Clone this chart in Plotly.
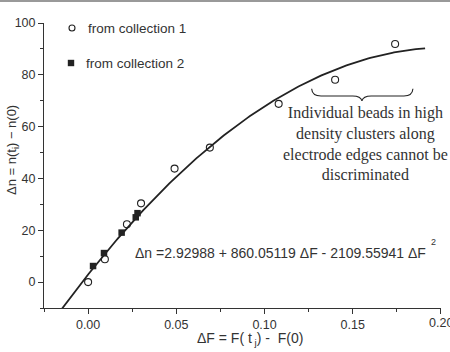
import numpy as np
import plotly.graph_objects as go

# Data
c1_x = [0.0, 0.0095, 0.022, 0.030, 0.049, 0.069, 0.108, 0.140, 0.174]
c1_y = [0.0, 8.8, 22.3, 30.4, 43.8, 51.9, 68.8, 78.1, 91.9]
c2_x = [0.0028, 0.009, 0.019, 0.027, 0.028]
c2_y = [6.2, 11.2, 19.1, 25.0, 26.6]

# Fit coefficients printed on the chart
fit_a0, fit_a1, fit_a2 = 2.92988, 860.05119, -2109.55941
fit_xmin, fit_xmax = -0.0152, 0.191

x_ticks = [0.00, 0.05, 0.10, 0.15, 0.20]
x_ticklabels = ["0.00", "0.05", "0.10", "0.15", "0.20"]
y_ticks = [0, 20, 40, 60, 80, 100]
y_ticklabels = ["0", "20", "40", "60", "80", "100"]

fx = np.linspace(fit_xmin, fit_xmax, 200)
fy = fit_a0 + fit_a1 * fx + fit_a2 * fx ** 2

INK = "#222222"
TXT = "#333333"

fig = go.Figure()
fig.add_trace(go.Scatter(x=fx, y=fy, mode="lines",
                         line=dict(color=INK, width=1.8), showlegend=False, hoverinfo="skip"))
fig.add_trace(go.Scatter(x=c1_x, y=c1_y, mode="markers",
                         marker=dict(symbol="circle-open", size=7, color=INK, line=dict(width=1.1)),
                         showlegend=False))
fig.add_trace(go.Scatter(x=c2_x, y=c2_y, mode="markers",
                         marker=dict(symbol="square", size=6.5, color=INK),
                         showlegend=False))

L, R, T, B = 44, 9, 23, 44
W, H = 450, 352
PW, PH = W - L - R, H - T - B


def px(xp):
    return (xp - L) / PW


def py(yp):
    return (H - B - yp) / PH


TICKFONT = dict(family="Arial, Liberation Sans", size=12.5, color=TXT)
axis_common = dict(showgrid=False, zeroline=False, showline=True, linecolor=TXT, linewidth=1,
                   ticks="outside", ticklen=5, tickwidth=1, tickcolor=TXT, automargin=False,
                   tickfont=TICKFONT,
                   minor=dict(ticks="outside", ticklen=3, tickwidth=1, tickcolor=TXT))

# the last x tick label sits past the page edge (clipped in the reference), drawn as an annotation
x_ticktext_axis = x_ticklabels[:-1] + [""]

fig.update_xaxes(range=[-0.025, 0.20001], tickvals=x_ticks, ticktext=x_ticktext_axis,
                 minor_dtick=0.025, minor_tick0=0, **axis_common)
fig.update_yaxes(range=[-10, 100.001], tickvals=y_ticks, ticktext=y_ticklabels,
                 minor_dtick=10, minor_tick0=0, **axis_common)

shapes = [
    # legend markers
    dict(type="circle", xref="paper", yref="paper", xsizemode="pixel", ysizemode="pixel",
         xanchor=px(72), yanchor=py(28), x0=-3, x1=3, y0=-3, y1=3,
         line=dict(color=INK, width=1.1), fillcolor="white"),
    dict(type="rect", xref="paper", yref="paper", xsizemode="pixel", ysizemode="pixel",
         xanchor=px(71), yanchor=py(63), x0=-3.2, x1=3.2, y0=-3.2, y1=3.2,
         line=dict(color=INK, width=0), fillcolor=INK),
    # brace
    dict(type="path", xref="x", yref="y",
         path="M 0.1267,74.6 Q 0.1270,71.8 0.1320,71.8 L 0.1500,71.8 Q 0.1545,71.8 0.1552,69.9 "
              "Q 0.1559,71.8 0.1604,71.8 L 0.1790,71.8 Q 0.1838,71.8 0.1841,74.6",
         line=dict(color=INK, width=1.1)),
    # top border line of the image
    dict(type="line", xref="paper", yref="paper", x0=-0.2, x1=1.1, y0=py(1), y1=py(1),
         line=dict(color="#999999", width=2)),
]

ann_font = dict(family="Arial, Liberation Sans", color=TXT)
annotations = [
    dict(x=x_ticks[-1], y=py(323), xref="x", yref="paper", xanchor="center", yanchor="middle",
         text=x_ticklabels[-1], showarrow=False, font=TICKFONT),
    dict(x=px(86), y=py(28), xref="paper", yref="paper", xanchor="left", yanchor="middle",
         text="from collection 1", showarrow=False, font=dict(size=13.5, **ann_font)),
    dict(x=px(84), y=py(63), xref="paper", yref="paper", xanchor="left", yanchor="middle",
         text="from collection 2", showarrow=False, font=dict(size=13.5, **ann_font)),
    dict(x=px(365), y=py(143.5), xref="paper", yref="paper", xanchor="center", yanchor="middle",
         text="Individual beads in high<br>density clusters along<br>electrode edges cannot be<br>discriminated",
         showarrow=False, align="center",
         font=dict(family="Liberation Serif, Times New Roman, serif", size=16, color=TXT)),
    dict(x=px(133), y=py(253), xref="paper", yref="paper", xanchor="left", yanchor="middle",
         text="Δn =2.92988 + 860.05119 ΔF - 2109.55941 ΔF", showarrow=False,
         font=dict(size=14, **ann_font)),
    dict(x=px(433), y=py(242), xref="paper", yref="paper", xanchor="center", yanchor="middle",
         text="2", showarrow=False, font=dict(size=9, **ann_font)),
    dict(x=px(250), y=py(339), xref="paper", yref="paper", xanchor="center", yanchor="middle",
         text="ΔF = F( t<sub> j</sub>) -  F(0)", showarrow=False, font=dict(size=14, **ann_font)),
    dict(x=px(12), y=py(150), xref="paper", yref="paper", xanchor="center", yanchor="middle",
         text="Δn = n(t<sub>i</sub>) − n(0)", textangle=-90, showarrow=False,
         font=dict(size=13, **ann_font)),
]

fig.update_layout(width=W, height=H, margin=dict(l=L, r=R, t=T, b=B, pad=0),
                  plot_bgcolor="white", paper_bgcolor="white",
                  shapes=shapes, annotations=annotations, showlegend=False)

fig.write_html("out.html")
